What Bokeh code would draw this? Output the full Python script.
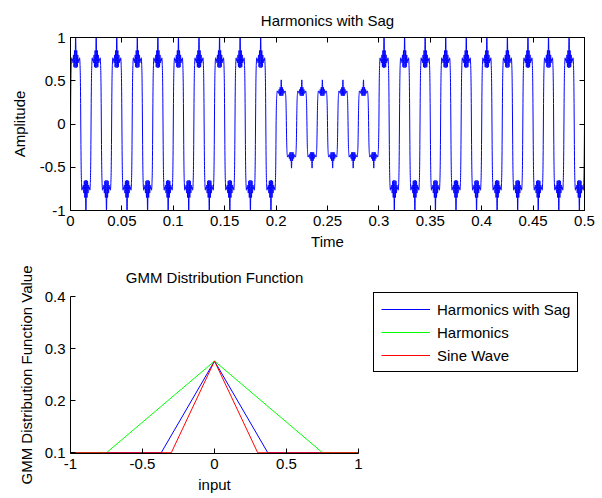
import numpy as np
from bokeh.plotting import figure
from bokeh.models import Range1d, LinearAxis, FixedTicker, Legend, LegendItem
from bokeh.layouts import column
from bokeh.embed import file_html
from bokeh.resources import INLINE

# ---------------- data: top panel (harmonic signal with a sag) ----------------
fundamental_hz = 50
harmonic_orders = [1, 3, 5, 7, 9, 11, 13, 15, 17, 19, 21, 23]
harmonic_amplitudes = [0.961, 0.273, 0.181, 0.078, 0.074, 0.019,
                       0.028, -0.006, 0.048, -0.046, 0.044, -0.002]
sag_start_s = 0.2
sag_end_s = 0.3
sag_retained = 0.5
sample_rate_hz = 20000
duration_s = 0.5

time_ticks = [0, 0.05, 0.1, 0.15, 0.2, 0.25, 0.3, 0.35, 0.4, 0.45, 0.5]
time_tick_labels = ["0", "0.05", "0.1", "0.15", "0.2", "0.25", "0.3", "0.35", "0.4", "0.45", "0.5"]
amp_ticks = [-1, -0.5, 0, 0.5, 1]
amp_tick_labels = ["-1", "-0.5", "0", "0.5", "1"]

# ---------------- data: bottom panel (GMM distribution function) ----------------
gmm_labels = ["Harmonics with Sag", "Harmonics", "Sine Wave"]
sag_input = [-1, -0.37, 0, 0.37, 1]
sag_value = [0.1, 0.1, 0.276, 0.1, 0.1]
harm_input = [-1, -0.75, 0, 0.75, 1]
harm_value = [0.1, 0.1, 0.276, 0.1, 0.1]
sine_input = [-1, -0.3, 0, 0.3, 1]
sine_value = [0.1, 0.1, 0.276, 0.1, 0.1]

input_ticks = [-1, -0.5, 0, 0.5, 1]
input_tick_labels = ["-1", "-0.5", "0", "0.5", "1"]
gmm_ticks = [0.1, 0.2, 0.3, 0.4]
gmm_tick_labels = ["0.1", "0.2", "0.3", "0.4"]

# ---------------- build signal ----------------
t = np.arange(int(round(duration_s * sample_rate_hz)) + 1) / sample_rate_hz
theta = 2 * np.pi * fundamental_hz * t
wave = np.zeros_like(t)
for n, a in zip(harmonic_orders, harmonic_amplitudes):
    wave += a * np.sin(n * theta)
envelope = np.where((t >= sag_start_s) & (t < sag_end_s), sag_retained, 1.0)
signal = wave * envelope

FONT = "Liberation Sans"
SIZE = "15px"


def style_axis(ax, ticks, labels, show_labels=True, label_standoff=4):
    ax.ticker = FixedTicker(ticks=ticks)
    ax.major_label_overrides = dict(zip(ticks, labels))
    ax.minor_tick_line_color = None
    ax.major_tick_in = 5
    ax.major_tick_out = 0
    ax.major_tick_line_color = "black"
    ax.axis_line_color = "black"
    ax.major_label_text_font = FONT
    ax.major_label_text_color = "black"
    ax.axis_label_text_font = FONT
    ax.axis_label_text_font_size = SIZE
    ax.axis_label_text_font_style = "normal"
    ax.axis_label_text_color = "black"
    ax.axis_label_standoff = label_standoff
    if show_labels:
        ax.major_label_text_font_size = SIZE
        ax.major_label_standoff = 5
    else:
        ax.major_label_text_font_size = "1px"
        ax.major_label_text_alpha = 0
        ax.major_label_standoff = 0


def style_title(fig, standoff):
    fig.title.text_font = FONT
    fig.title.text_font_size = SIZE
    fig.title.text_font_style = "normal"
    fig.title.align = "center"
    fig.title.text_color = "black"
    fig.title.standoff = standoff


# ---------------- top figure ----------------
top = figure(frame_width=514, frame_height=173, x_range=Range1d(0, 0.5), y_range=Range1d(-1, 1),
             output_backend="svg", toolbar_location=None,
             min_border_left=69, min_border_right=19, min_border_top=37, min_border_bottom=45,
             title="Harmonics with Sag")
top.line(t, signal, line_color="#0000ff", line_width=1)
top.grid.visible = False
top.outline_line_color = "black"
top.outline_line_alpha = 1
top.background_fill_color = "white"
top.border_fill_color = "white"
style_title(top, 17)
style_axis(top.xaxis[0], time_ticks, time_tick_labels)
style_axis(top.yaxis[0], amp_ticks, amp_tick_labels, label_standoff=9)
top.xaxis[0].axis_label = "Time"
top.yaxis[0].axis_label = "Amplitude"
ax_top = LinearAxis()
style_axis(ax_top, time_ticks, time_tick_labels, show_labels=False)
top.add_layout(ax_top, "above")
ax_right = LinearAxis()
style_axis(ax_right, amp_ticks, amp_tick_labels, show_labels=False)
top.add_layout(ax_right, "right")

# ---------------- bottom figure ----------------
bot = figure(frame_width=288, frame_height=157, x_range=Range1d(-1, 1), y_range=Range1d(0.0985, 0.4),
             output_backend="svg", toolbar_location=None,
             min_border_left=70, min_border_right=244, min_border_top=40, min_border_bottom=46,
             title="GMM Distribution Function")
r_sag = bot.line(sag_input, sag_value, line_color="#0000ff", line_width=1)
r_harm = bot.line(harm_input, harm_value, line_color="#00ff00", line_width=1)
r_sine = bot.line(sine_input, sine_value, line_color="#ff0000", line_width=1)
bot.grid.visible = False
bot.outline_line_color = None
bot.background_fill_color = "white"
bot.border_fill_color = "white"
style_title(bot, 22)
style_axis(bot.xaxis[0], input_ticks, input_tick_labels)
style_axis(bot.yaxis[0], gmm_ticks, gmm_tick_labels, label_standoff=7)
bot.xaxis[0].axis_label = "input"
bot.yaxis[0].axis_label = "GMM Distribution Function Value"

legend = Legend(items=[LegendItem(label=gmm_labels[0], renderers=[r_sag]),
                       LegendItem(label=gmm_labels[1], renderers=[r_harm]),
                       LegendItem(label=gmm_labels[2], renderers=[r_sine])],
                location=(15, 81), margin=0, padding=7, spacing=5,
                glyph_width=49, glyph_height=18, label_height=18, label_standoff=7,
                border_line_color="black", border_line_width=1, border_line_alpha=1,
                background_fill_color="white", background_fill_alpha=1,
                label_text_font=FONT, label_text_font_size=SIZE, label_text_color="black")
bot.add_layout(legend, "right")

layout = column(top, bot, spacing=0)
open("out.html", "w").write(file_html(layout, INLINE))
